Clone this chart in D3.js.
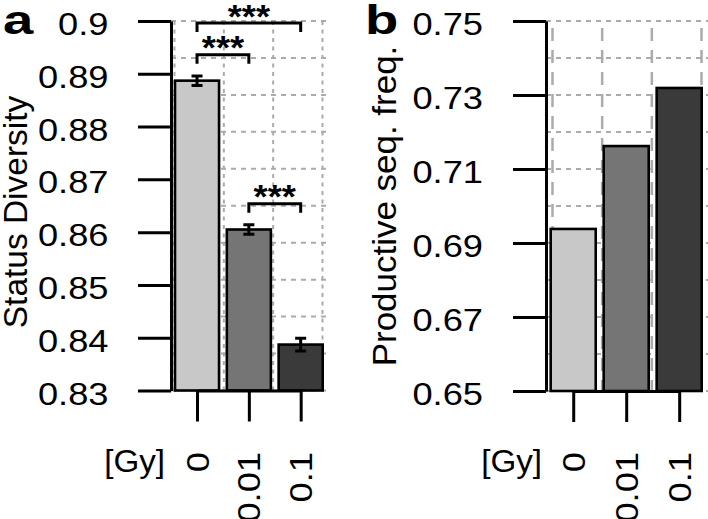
<!DOCTYPE html>
<html><head><meta charset="utf-8">
<script src="https://cdn.jsdelivr.net/npm/d3@7"></script>
<style>html,body{margin:0;padding:0;background:#fff;} svg{display:block;}</style>
</head><body>
<svg id="chart" width="708" height="519"></svg>
<script>
// ---------- data ----------
const categories = ["0", "0.01", "0.1"];
const axisUnit = "[Gy]";
const diversity = [0.8887, 0.8605, 0.8387];
const diversityErr = [0.0009, 0.0009, 0.0012];
const productive = [0.6938, 0.7162, 0.7319];
const ticksA = [0.83, 0.84, 0.85, 0.86, 0.87, 0.88, 0.89, 0.9];
const tickLabelsA = ["0.83", "0.84", "0.85", "0.86", "0.87", "0.88", "0.89", "0.9"];
const ticksB = [0.65, 0.67, 0.69, 0.71, 0.73, 0.75];
const tickLabelsB = ["0.65", "0.67", "0.69", "0.71", "0.73", "0.75"];
const sigPairs = [[0, 2], [0, 1], [1, 2]];
const sigLevels = [0.8996, 0.8936, 0.8654];
const sigLabels = ["***", "***", "***"];
const titleA = "Status Diversity";
const titleB = "Productive seq. freq.";
const barColors = ["#c8c8c8", "#757575", "#3a3a3a"];

// ---------- style ----------
const FONT = "'Liberation Sans', Arial, Helvetica, sans-serif";
const svg = d3.select("#chart");
svg.append("rect").attr("width", 708).attr("height", 519).attr("fill", "#fff");

function panel(cfg) {
  const g = svg.append("g");
  const y = d3.scaleLinear().domain(cfg.domain).range(cfg.yRange);
  const x = d3.scaleBand().domain(categories).range(cfg.barRange).paddingInner(0.15).paddingOuter(0);
  const bw = x.bandwidth();
  const pts = d3.scalePoint().domain(categories)
    .range([x(categories[0]) + bw / 2, x(categories[categories.length - 1]) + bw / 2]);

  // grid (R grid style: equally spaced across region)
  const hN = 10;
  const hVals = d3.range(hN + 1).map(i => cfg.domain[0] + (cfg.domain[1] - cfg.domain[0]) * i / hN);
  g.append("g").selectAll("line").data(hVals).join("line")
    .attr("x1", cfg.axisX).attr("x2", cfg.gridRight)
    .attr("y1", d => y(d)).attr("y2", d => y(d))
    .attr("stroke", "#ababab").attr("stroke-width", 2).attr("stroke-dasharray", "5,5");
  const vN = 3;
  const vXs = d3.range(vN + 1).map(i => cfg.vGrid[0] + (cfg.vGrid[1] - cfg.vGrid[0]) * i / vN);
  g.append("g").selectAll("line").data(vXs).join("line")
    .attr("x1", d => d).attr("x2", d => d)
    .attr("y1", cfg.yRange[1]).attr("y2", cfg.yRange[0])
    .attr("stroke", "#ababab").attr("stroke-width", cfg.vWidth)
    .attr("stroke-dasharray", cfg.vDash).attr("stroke-dashoffset", cfg.vOffset);

  // bars
  g.append("g").selectAll("rect").data(cfg.values).join("rect")
    .attr("x", (d, i) => x(categories[i]))
    .attr("width", bw)
    .attr("y", d => y(d))
    .attr("height", d => y(cfg.domain[0]) - y(d))
    .attr("fill", (d, i) => barColors[i])
    .attr("stroke", "#000").attr("stroke-width", 2.6);

  // error bars
  if (cfg.errors) {
    const eg = g.append("g").attr("stroke", "#000").attr("stroke-width", 3).attr("fill", "none");
    cfg.values.forEach((v, i) => {
      const cx = pts(categories[i]);
      const e = cfg.errors[i];
      eg.append("path").attr("d",
        `M${cx},${y(v - e)}V${y(v + e)}M${cx - 5.5},${y(v - e)}H${cx + 5.5}M${cx - 5.5},${y(v + e)}H${cx + 5.5}`);
    });
  }

  // y axis
  const yAx = d3.axisLeft(y).tickValues(cfg.ticks).tickFormat((d, i) => cfg.tickLabels[i])
    .tickSize(33).tickSizeOuter(0);
  const yg = g.append("g").attr("transform", `translate(${cfg.axisX},0)`).call(yAx);
  yg.attr("font-family", FONT).attr("font-size", 31);
  yg.select(".domain").attr("stroke", "#000").attr("stroke-width", 3);
  yg.selectAll(".tick line").attr("stroke", "#000").attr("stroke-width", 3);
  yg.selectAll(".tick text").attr("x", 0).attr("y", 0).attr("dy", null)
    .attr("fill", "#000").attr("text-anchor", "end")
    .attr("transform", `translate(${cfg.labelEnd - cfg.axisX},13.5) scale(1.17,1)`);

  // x axis
  const xAx = d3.axisBottom(pts).tickSize(31).tickSizeOuter(0);
  const xg = g.append("g").attr("transform", `translate(0,${cfg.yRange[0]})`).call(xAx);
  xg.attr("font-family", FONT).attr("font-size", 31);
  xg.select(".domain").attr("stroke", "#000").attr("stroke-width", 3);
  xg.selectAll(".tick line").attr("stroke", "#000").attr("stroke-width", 3);
  xg.selectAll(".tick text").attr("x", 0).attr("y", 0).attr("dy", null)
    .attr("fill", "#000").attr("text-anchor", "end")
    .attr("transform", `translate(11,${452 - cfg.yRange[0]}) rotate(-90) scale(1.17,1)`);

  // unit label
  g.append("text").attr("text-anchor", "end").attr("font-family", FONT).attr("font-size", 31)
    .attr("transform", `translate(${cfg.unitEnd},471.5) scale(1.07,1)`).text(axisUnit);

  // y title
  g.append("text").attr("text-anchor", "middle").attr("font-family", FONT).attr("font-size", cfg.titleSize)
    .attr("transform", `translate(${cfg.titleX},${cfg.titleY}) rotate(-90) scale(${cfg.titleScale})`)
    .text(cfg.title);

  // panel letter
  g.append("text").attr("font-family", FONT).attr("font-weight", "bold").attr("font-size", 41)
    .attr("transform", `translate(${cfg.letterX},34) scale(1.33,1)`).text(cfg.letter);

  return {g, y, pts};
}

const A = panel({
  domain: [0.83, 0.9], yRange: [390.5, 21], barRange: [175, 322.7], axisX: 171,
  gridRight: 330, vGrid: [174.5, 322.5], vDash: "4,4.5", vWidth: 2, vOffset: 0,
  values: diversity, errors: diversityErr, ticks: ticksA, tickLabels: tickLabelsA,
  labelEnd: 108.5, unitEnd: 165, title: titleA, titleSize: 31, titleX: 27, titleY: 212,
  titleScale: "1.08,1.05", letter: "a", letterX: 3
});
const B = panel({
  domain: [0.65, 0.75], yRange: [391, 21], barRange: [550.7, 701.7], axisX: 546,
  gridRight: 708, vGrid: [552.5, 701.5], vDash: "13,9", vWidth: 2.5, vOffset: 15,
  values: productive, errors: null, ticks: ticksB, tickLabels: tickLabelsB,
  labelEnd: 483, unitEnd: 542, title: titleB, titleSize: 33, titleX: 395.7, titleY: 206,
  titleScale: "1.06,1.03", letter: "b", letterX: 365
});

// significance brackets (panel a)
const sg = A.g.append("g");
sigPairs.forEach((p, i) => {
  const x1 = A.pts(categories[p[0]]), x2 = A.pts(categories[p[1]]);
  const yy = A.y(sigLevels[i]);
  sg.append("path").attr("d", `M${x1},${yy + 9}V${yy}H${x2}V${yy + 9}`)
    .attr("fill", "none").attr("stroke", "#000").attr("stroke-width", 3);
  sg.append("text").attr("text-anchor", "middle").attr("font-family", FONT)
    .attr("font-weight", "bold").attr("font-size", 33)
    .attr("transform", `translate(${(x1 + x2) / 2},${yy + 4.5}) scale(1.1,1)`)
    .text(sigLabels[i]);
});
</script>
</body></html>
